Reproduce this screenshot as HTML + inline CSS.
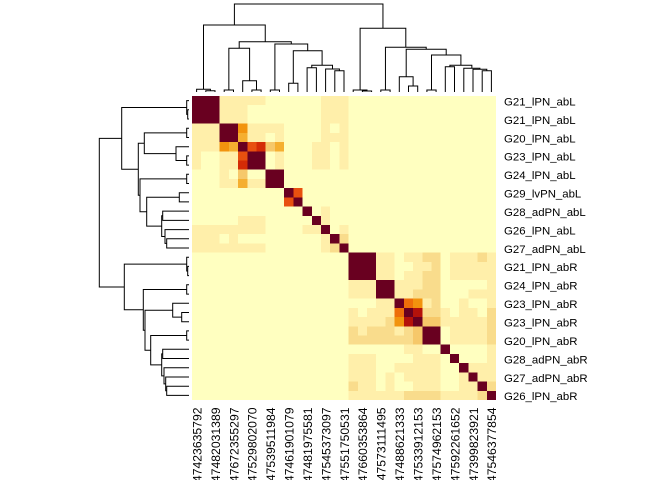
<!DOCTYPE html>
<html>
<head>
<meta charset="utf-8">
<style>
html,body{margin:0;padding:0;background:#fff;}
svg{display:block}
.P{fill:#FFFFC0}.L{fill:#FFEFAA}.M{fill:#F9DC8C}.T{fill:#F6C86A}.A{fill:#F5AF30}
.O{fill:#F2930E}.E{fill:#EE6E0A}.R{fill:#E8500F}.S{fill:#D42B06}.X{fill:#B5120A}.D{fill:#690020}
text{font-family:"Liberation Sans",Arial,sans-serif;font-size:11.4px;fill:#000}
.cl text{font-size:12.2px}
</style>
</head>
<body>
<svg width="672" height="480" viewBox="0 0 672 480" xmlns="http://www.w3.org/2000/svg">
<rect width="672" height="480" fill="#fff"/>
<svg x="192" y="96" width="304" height="304" viewBox="0 0 33 33" preserveAspectRatio="none" shape-rendering="crispEdges">
<rect class="P" x="0" y="0" width="33" height="33"/>
<rect class="D" x="0" y="0" width="3" height="3"/>
<rect class="L" x="3" y="0" width="5" height="1"/>
<rect class="L" x="3" y="1" width="3" height="2"/>
<rect class="L" x="14" y="0" width="3" height="3"/>
<rect class="L" x="0" y="3" width="3" height="1"/>
<rect class="D" x="3" y="3" width="2" height="2"/>
<rect class="O" x="5" y="3" width="1" height="1"/>
<rect class="L" x="6" y="3" width="4" height="1"/>
<rect class="L" x="14" y="3" width="1" height="1"/>
<rect class="L" x="16" y="3" width="1" height="1"/>
<rect class="L" x="0" y="4" width="3" height="1"/>
<rect class="A" x="5" y="4" width="1" height="1"/>
<rect class="L" x="6" y="4" width="2" height="1"/>
<rect class="L" x="9" y="4" width="1" height="1"/>
<rect class="L" x="14" y="4" width="3" height="1"/>
<rect class="L" x="0" y="5" width="3" height="1"/>
<rect class="O" x="3" y="5" width="1" height="1"/>
<rect class="A" x="4" y="5" width="1" height="1"/>
<rect class="D" x="5" y="5" width="1" height="1"/>
<rect class="R" x="6" y="5" width="1" height="1"/>
<rect class="S" x="7" y="5" width="1" height="1"/>
<rect class="T" x="8" y="5" width="1" height="1"/>
<rect class="A" x="9" y="5" width="1" height="1"/>
<rect class="L" x="13" y="5" width="2" height="1"/>
<rect class="L" x="16" y="5" width="1" height="1"/>
<rect class="L" x="0" y="6" width="1" height="2"/>
<rect class="L" x="3" y="6" width="2" height="2"/>
<rect class="R" x="5" y="6" width="1" height="1"/>
<rect class="S" x="5" y="7" width="1" height="1"/>
<rect class="D" x="6" y="6" width="2" height="2"/>
<rect class="L" x="9" y="6" width="1" height="2"/>
<rect class="L" x="13" y="6" width="2" height="2"/>
<rect class="L" x="16" y="6" width="1" height="2"/>
<rect class="L" x="3" y="8" width="1" height="1"/>
<rect class="T" x="5" y="8" width="1" height="1"/>
<rect class="D" x="8" y="8" width="2" height="2"/>
<rect class="L" x="3" y="9" width="2" height="1"/>
<rect class="A" x="5" y="9" width="1" height="1"/>
<rect class="L" x="6" y="9" width="2" height="1"/>
<rect class="D" x="10" y="10" width="1" height="1"/>
<rect class="R" x="11" y="10" width="1" height="1"/>
<rect class="R" x="10" y="11" width="1" height="1"/>
<rect class="D" x="11" y="11" width="1" height="1"/>
<rect class="D" x="12" y="12" width="1" height="1"/>
<rect class="L" x="14" y="12" width="1" height="1"/>
<rect class="L" x="5" y="13" width="3" height="1"/>
<rect class="D" x="13" y="13" width="1" height="1"/>
<rect class="L" x="14" y="13" width="1" height="1"/>
<rect class="L" x="0" y="14" width="8" height="1"/>
<rect class="L" x="12" y="14" width="2" height="1"/>
<rect class="D" x="14" y="14" width="1" height="1"/>
<rect class="L" x="16" y="14" width="1" height="1"/>
<rect class="L" x="0" y="15" width="3" height="1"/>
<rect class="L" x="4" y="15" width="1" height="1"/>
<rect class="L" x="14" y="15" width="1" height="1"/>
<rect class="D" x="15" y="15" width="1" height="1"/>
<rect class="M" x="16" y="15" width="1" height="1"/>
<rect class="L" x="0" y="16" width="8" height="1"/>
<rect class="L" x="14" y="16" width="1" height="1"/>
<rect class="M" x="15" y="16" width="1" height="1"/>
<rect class="D" x="16" y="16" width="1" height="1"/>
<rect class="D" x="17" y="17" width="3" height="3"/>
<rect class="L" x="20" y="17" width="2" height="1"/>
<rect class="L" x="23" y="17" width="2" height="1"/>
<rect class="M" x="25" y="17" width="2" height="1"/>
<rect class="L" x="28" y="17" width="3" height="1"/>
<rect class="M" x="31" y="17" width="1" height="1"/>
<rect class="L" x="32" y="17" width="1" height="1"/>
<rect class="L" x="20" y="18" width="2" height="1"/>
<rect class="L" x="24" y="18" width="2" height="1"/>
<rect class="M" x="26" y="18" width="1" height="1"/>
<rect class="L" x="28" y="18" width="5" height="1"/>
<rect class="L" x="20" y="19" width="2" height="1"/>
<rect class="L" x="23" y="19" width="2" height="1"/>
<rect class="M" x="25" y="19" width="2" height="1"/>
<rect class="L" x="28" y="19" width="5" height="1"/>
<rect class="L" x="17" y="20" width="3" height="1"/>
<rect class="D" x="20" y="20" width="2" height="2"/>
<rect class="L" x="22" y="20" width="3" height="1"/>
<rect class="M" x="25" y="20" width="2" height="1"/>
<rect class="L" x="32" y="20" width="1" height="1"/>
<rect class="L" x="17" y="21" width="3" height="1"/>
<rect class="L" x="22" y="21" width="2" height="1"/>
<rect class="M" x="24" y="21" width="3" height="1"/>
<rect class="L" x="30" y="21" width="3" height="1"/>
<rect class="L" x="20" y="22" width="2" height="1"/>
<rect class="D" x="22" y="22" width="1" height="1"/>
<rect class="E" x="23" y="22" width="1" height="1"/>
<rect class="O" x="24" y="22" width="1" height="1"/>
<rect class="L" x="25" y="22" width="1" height="1"/>
<rect class="M" x="26" y="22" width="1" height="1"/>
<rect class="L" x="29" y="22" width="1" height="1"/>
<rect class="L" x="32" y="22" width="1" height="1"/>
<rect class="L" x="17" y="23" width="1" height="1"/>
<rect class="L" x="19" y="23" width="3" height="1"/>
<rect class="E" x="22" y="23" width="1" height="1"/>
<rect class="D" x="23" y="23" width="1" height="1"/>
<rect class="X" x="24" y="23" width="1" height="1"/>
<rect class="M" x="25" y="23" width="2" height="1"/>
<rect class="L" x="27" y="23" width="1" height="1"/>
<rect class="L" x="29" y="23" width="2" height="1"/>
<rect class="M" x="32" y="23" width="1" height="1"/>
<rect class="L" x="17" y="24" width="4" height="1"/>
<rect class="M" x="21" y="24" width="1" height="1"/>
<rect class="O" x="22" y="24" width="1" height="1"/>
<rect class="X" x="23" y="24" width="1" height="1"/>
<rect class="D" x="24" y="24" width="1" height="1"/>
<rect class="T" x="25" y="24" width="2" height="1"/>
<rect class="L" x="27" y="24" width="5" height="1"/>
<rect class="M" x="32" y="24" width="1" height="1"/>
<rect class="M" x="17" y="25" width="1" height="1"/>
<rect class="L" x="18" y="25" width="1" height="1"/>
<rect class="M" x="19" y="25" width="3" height="1"/>
<rect class="L" x="22" y="25" width="1" height="1"/>
<rect class="M" x="23" y="25" width="1" height="1"/>
<rect class="T" x="24" y="25" width="1" height="2"/>
<rect class="D" x="25" y="25" width="2" height="2"/>
<rect class="L" x="28" y="25" width="4" height="2"/>
<rect class="M" x="32" y="25" width="1" height="2"/>
<rect class="M" x="17" y="26" width="7" height="1"/>
<rect class="L" x="23" y="27" width="2" height="1"/>
<rect class="D" x="27" y="27" width="1" height="1"/>
<rect class="L" x="32" y="27" width="1" height="1"/>
<rect class="L" x="17" y="28" width="3" height="1"/>
<rect class="L" x="24" y="28" width="3" height="1"/>
<rect class="D" x="28" y="28" width="1" height="1"/>
<rect class="L" x="32" y="28" width="1" height="1"/>
<rect class="L" x="17" y="29" width="3" height="1"/>
<rect class="L" x="22" y="29" width="5" height="1"/>
<rect class="D" x="29" y="29" width="1" height="1"/>
<rect class="L" x="30" y="29" width="3" height="1"/>
<rect class="L" x="17" y="30" width="3" height="1"/>
<rect class="L" x="21" y="30" width="1" height="1"/>
<rect class="L" x="23" y="30" width="4" height="1"/>
<rect class="L" x="29" y="30" width="1" height="1"/>
<rect class="D" x="30" y="30" width="1" height="1"/>
<rect class="L" x="31" y="30" width="2" height="1"/>
<rect class="M" x="17" y="31" width="1" height="1"/>
<rect class="L" x="18" y="31" width="2" height="1"/>
<rect class="L" x="21" y="31" width="1" height="1"/>
<rect class="L" x="24" y="31" width="3" height="1"/>
<rect class="L" x="29" y="31" width="2" height="1"/>
<rect class="D" x="31" y="31" width="1" height="1"/>
<rect class="M" x="32" y="31" width="1" height="1"/>
<rect class="L" x="17" y="32" width="6" height="1"/>
<rect class="M" x="23" y="32" width="4" height="1"/>
<rect class="L" x="27" y="32" width="4" height="1"/>
<rect class="M" x="31" y="32" width="1" height="1"/>
<rect class="D" x="32" y="32" width="1" height="1"/>
</svg>

<g fill="none" stroke="#000" stroke-width="1">
<path d="M205.8 92 V90.7 H215 V92"/>
<path d="M196.6 92 V89.3 H210.4 V90.7"/>
<path d="M224.2 92 V90 H233.5 V92"/>
<path d="M251.9 92 V90 H261.1 V92"/>
<path d="M242.7 92 V80.7 H256.5 V90"/>
<path d="M228.85 90 V48.3 H249.6 V80.7"/>
<path d="M270.3 92 V90 H279.5 V92"/>
<path d="M288.7 92 V83.3 H297.9 V92"/>
<path d="M307.1 92 V67.7 H316.4 V92"/>
<path d="M334.8 92 V70.7 H344 V92"/>
<path d="M325.6 92 V69 H339.4 V70.7"/>
<path d="M311.75 67.7 V65.3 H332.5 V69"/>
<path d="M293.3 83.3 V50.7 H322.1 V65.3"/>
<path d="M274.9 90 V44 H307.7 V50.7"/>
<path d="M239.2 48.3 V41.7 H291.3 V44"/>
<path d="M203.5 89.3 V25 H265.25 V41.7"/>
<path d="M362.4 92 V91 H371.6 V92"/>
<path d="M353.2 92 V90 H367 V91"/>
<path d="M380.8 92 V90 H390.1 V92"/>
<path d="M408.5 92 V86 H417.7 V92"/>
<path d="M399.3 92 V76.7 H413.1 V86"/>
<path d="M426.9 92 V90 H436.1 V92"/>
<path d="M445.3 92 V66.7 H454.5 V92"/>
<path d="M482.2 92 V70.7 H491.4 V92"/>
<path d="M473 92 V69.3 H486.8 V70.7"/>
<path d="M463.8 92 V68.3 H479.9 V69.3"/>
<path d="M449.9 66.7 V65.3 H471.85 V68.3"/>
<path d="M431.5 90 V55 H460.9 V65.3"/>
<path d="M406.2 76.7 V49.3 H446.2 V55"/>
<path d="M385.45 90 V47.3 H426.2 V49.3"/>
<path d="M360.1 90 V28.3 H405.8 V47.3"/>
<path d="M234.4 25 V4 H382.95 V28.3"/>
</g>

<g fill="none" stroke="#000" stroke-width="1">
<path d="M189 109.8 H187.7 V119 H189"/>
<path d="M189 100.6 H186.7 V114.4 H187.7"/>
<path d="M189 128.2 H186.7 V137.5 H189"/>
<path d="M189 155.9 H186.7 V165.1 H189"/>
<path d="M189 146.7 H176 V160.5 H186.7"/>
<path d="M186.7 132.85 H144.3 V153.6 H176"/>
<path d="M189 174.3 H186.7 V183.5 H189"/>
<path d="M189 192.7 H179.3 V201.9 H189"/>
<path d="M189 211.1 H162.7 V220.4 H189"/>
<path d="M189 238.8 H166.7 V248 H189"/>
<path d="M189 229.6 H165 V243.4 H166.7"/>
<path d="M162.7 215.75 H161.7 V236.5 H165"/>
<path d="M179.3 197.3 H146.7 V226.1 H161.7"/>
<path d="M186.7 178.9 H140 V211.7 H146.7"/>
<path d="M144.3 143.2 H138.3 V195.3 H140"/>
<path d="M186.7 107.5 H121.7 V169.25 H138.3"/>
<path d="M189 266.4 H187.7 V275.6 H189"/>
<path d="M189 257.2 H186.7 V271 H187.7"/>
<path d="M189 284.8 H186.7 V294.1 H189"/>
<path d="M189 312.5 H181.7 V321.7 H189"/>
<path d="M189 303.3 H172.7 V317.1 H181.7"/>
<path d="M189 330.9 H186.7 V340.1 H189"/>
<path d="M189 349.3 H162.7 V358.5 H189"/>
<path d="M189 386.2 H166.7 V395.4 H189"/>
<path d="M189 377 H165.7 V390.8 H166.7"/>
<path d="M189 367.8 H164 V383.9 H165.7"/>
<path d="M162.7 353.9 H161.7 V375.85 H164"/>
<path d="M186.7 335.5 H150.7 V364.9 H161.7"/>
<path d="M172.7 310.2 H145 V350.2 H150.7"/>
<path d="M186.7 289.45 H143.3 V330.2 H145"/>
<path d="M186.7 264.1 H124.3 V309.8 H143.3"/>
<path d="M121.7 138.4 H99.3 V287 H124.3"/>
</g>

<g>
<text x="504" y="105.4">G21_lPN_abL</text>
<text x="504" y="123.8">G21_lPN_abL</text>
<text x="504" y="142.3">G20_lPN_abL</text>
<text x="504" y="160.7">G23_lPN_abL</text>
<text x="504" y="179.1">G24_lPN_abL</text>
<text x="504" y="197.5">G29_lvPN_abL</text>
<text x="504" y="215.9">G28_adPN_abL</text>
<text x="504" y="234.4">G26_lPN_abL</text>
<text x="504" y="252.8">G27_adPN_abL</text>
<text x="504" y="271.2">G21_lPN_abR</text>
<text x="504" y="289.6">G24_lPN_abR</text>
<text x="504" y="308.1">G23_lPN_abR</text>
<text x="504" y="326.5">G23_lPN_abR</text>
<text x="504" y="344.9">G20_lPN_abR</text>
<text x="504" y="363.3">G28_adPN_abR</text>
<text x="504" y="381.8">G27_adPN_abR</text>
<text x="504" y="400.2">G26_lPN_abR</text>
</g>

<g class="cl" text-anchor="end">
<text transform="translate(201.4,407.5) rotate(-90)">47423635792</text>
<text transform="translate(219.8,407.5) rotate(-90)">47482031389</text>
<text transform="translate(238.3,407.5) rotate(-90)">47672355297</text>
<text transform="translate(256.7,407.5) rotate(-90)">47529802070</text>
<text transform="translate(275.1,407.5) rotate(-90)">47539511984</text>
<text transform="translate(293.5,407.5) rotate(-90)">47461901079</text>
<text transform="translate(311.9,407.5) rotate(-90)">47481975581</text>
<text transform="translate(330.4,407.5) rotate(-90)">47545373097</text>
<text transform="translate(348.8,407.5) rotate(-90)">47551750531</text>
<text transform="translate(367.2,407.5) rotate(-90)">47660353864</text>
<text transform="translate(385.6,407.5) rotate(-90)">47573111495</text>
<text transform="translate(404.1,407.5) rotate(-90)">47488621333</text>
<text transform="translate(422.5,407.5) rotate(-90)">47533912153</text>
<text transform="translate(440.9,407.5) rotate(-90)">47574962153</text>
<text transform="translate(459.3,407.5) rotate(-90)">47592261652</text>
<text transform="translate(477.8,407.5) rotate(-90)">47399823921</text>
<text transform="translate(496.2,407.5) rotate(-90)">47546377854</text>
</g>
</svg>
</body>
</html>
